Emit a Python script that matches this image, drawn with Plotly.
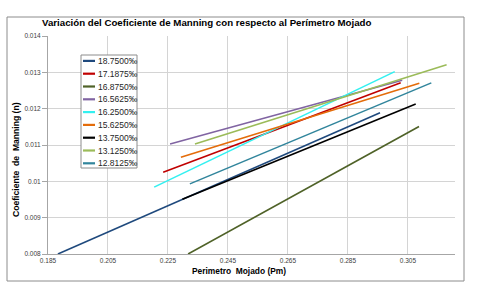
import plotly.graph_objects as go

# ---------------- data ----------------
series_names = ["18.7500‰", "17.1875‰", "16.8750‰", "16.5625‰", "16.2500‰",
                "15.6250‰", "13.7500‰", "13.1250‰", "12.8125‰"]

pm_18_7500 = [0.1883, 0.2957]
n_18_7500 = [0.00800, 0.01189]
pm_17_1875 = [0.2234, 0.3026]
n_17_1875 = [0.01025, 0.01271]
pm_16_8750 = [0.2317, 0.3087]
n_16_8750 = [0.00800, 0.01151]
pm_16_5625 = [0.2257, 0.3031]
n_16_5625 = [0.01103, 0.01278]
pm_16_2500 = [0.2204, 0.3006]
n_16_2500 = [0.00984, 0.01302]
pm_15_6250 = [0.2293, 0.3088]
n_15_6250 = [0.01066, 0.01270]
pm_13_7500 = [0.2298, 0.3076]
n_13_7500 = [0.00951, 0.01213]
pm_13_1250 = [0.2340, 0.3179]
n_13_1250 = [0.01103, 0.01321]
pm_12_8125 = [0.2323, 0.3128]
n_12_8125 = [0.00993, 0.01271]

x_tick_vals = [0.185, 0.205, 0.225, 0.245, 0.265, 0.285, 0.305]
x_tick_labels = ["0.185", "0.205", "0.225", "0.245", "0.265", "0.285", "0.305"]
y_tick_vals = [0.008, 0.009, 0.010, 0.011, 0.012, 0.013, 0.014]
y_tick_labels = ["0.008", "0.009", "0.01", "0.011", "0.012", "0.013", "0.014"]

title_text = "Variación del Coeficiente de Manning con respecto al Perímetro Mojado"
x_title = "Perimetro  Mojado (Pm)"
y_title = "Coeficiente  de  Manning (n)"

# ---------------- style ----------------
colors = ["#1F497D", "#C00000", "#4F6228", "#8064A2", "#33F0F0",
          "#E46C0A", "#000000", "#9BBB59", "#31859C"]
FONT = "Liberation Sans, Arial, sans-serif"
W, H = 479, 294
PL, PR, PT, PB = 48, 455, 36, 254  # plot area in pixels

def px_x(px):
    return (px - PL) / (PR - PL)

def px_y(py):
    return (PB - py) / (PB - PT)

xs = [pm_18_7500, pm_17_1875, pm_16_8750, pm_16_5625, pm_16_2500,
      pm_15_6250, pm_13_7500, pm_13_1250, pm_12_8125]
ys = [n_18_7500, n_17_1875, n_16_8750, n_16_5625, n_16_2500,
      n_15_6250, n_13_7500, n_13_1250, n_12_8125]

fig = go.Figure()
for name, x, y, c in zip(series_names, xs, ys, colors):
    fig.add_trace(go.Scatter(x=x, y=y, mode="lines", name=name,
                             line=dict(color=c, width=1.6), showlegend=False))

shapes = []
annotations = []

# outer chart border
shapes.append(dict(type="rect", xref="paper", yref="paper",
                   x0=px_x(7), x1=px_x(464), y0=px_y(281), y1=px_y(17),
                   line=dict(color="#8c8c8c", width=1), fillcolor="rgba(0,0,0,0)",
                   layer="below"))

# legend box (custom, compact like the original)
LG_L, LG_R, LG_T, LG_B = 81, 137, 55, 168
shapes.append(dict(type="rect", xref="paper", yref="paper",
                   x0=px_x(LG_L), x1=px_x(LG_R), y0=px_y(LG_B), y1=px_y(LG_T),
                   line=dict(color="#8c8c8c", width=1), fillcolor="white",
                   layer="above"))
first_y, step = 60.9, 12.8
for i, (name, c) in enumerate(zip(series_names, colors)):
    yy = first_y + i * step
    shapes.append(dict(type="line", xref="paper", yref="paper",
                       x0=px_x(83), x1=px_x(95), y0=px_y(yy), y1=px_y(yy),
                       line=dict(color=c, width=2.2), layer="above"))
    annotations.append(dict(text=name, xref="paper", yref="paper",
                            x=px_x(95.5), y=px_y(yy), xanchor="left", yanchor="middle",
                            showarrow=False,
                            font=dict(family=FONT, size=8.5, color="#262626")))

# axis titles
annotations.append(dict(text=x_title, xref="paper", yref="paper",
                        x=px_x(239), y=px_y(271), xanchor="center", yanchor="middle",
                        showarrow=False,
                        font=dict(family=FONT, size=8.4, color="#000000", weight="bold")))
annotations.append(dict(text=y_title, xref="paper", yref="paper",
                        x=px_x(16), y=px_y(160), xanchor="center", yanchor="middle",
                        textangle=-90, showarrow=False,
                        font=dict(family=FONT, size=8.6, color="#000000", weight="bold")))

fig.update_layout(
    width=W, height=H,
    margin=dict(l=PL, r=W - PR, t=PT, b=H - PB, pad=0),
    paper_bgcolor="white", plot_bgcolor="white",
    title=dict(text=title_text, x=42 / W, xanchor="left", xref="container",
               y=1 - 23 / H, yanchor="middle", yref="container",
               font=dict(family=FONT, size=9.7, color="#000000", weight="bold")),
    shapes=shapes, annotations=annotations,
    showlegend=False,
    xaxis=dict(range=[0.185, 0.3207], tickvals=x_tick_vals, ticktext=x_tick_labels,
               showgrid=True, gridcolor="#d4d4d4", gridwidth=1,
               showline=True, linecolor="#a6a6a6", linewidth=1,
               ticks="", zeroline=False,
               tickfont=dict(family=FONT, size=6.5, color="#404040")),
    yaxis=dict(range=[0.008, 0.014], tickvals=y_tick_vals, ticktext=y_tick_labels,
               showgrid=True, gridcolor="#d4d4d4", gridwidth=1,
               showline=True, linecolor="#a6a6a6", linewidth=1,
               ticks="outside", ticklen=5, tickcolor="#a6a6a6", zeroline=False,
               tickfont=dict(family=FONT, size=6.5, color="#404040")),
)

fig.write_html("out.html",
               config={"displayModeBar": False},
               post_script="document.body.style.margin='0';document.body.style.padding='0';")
